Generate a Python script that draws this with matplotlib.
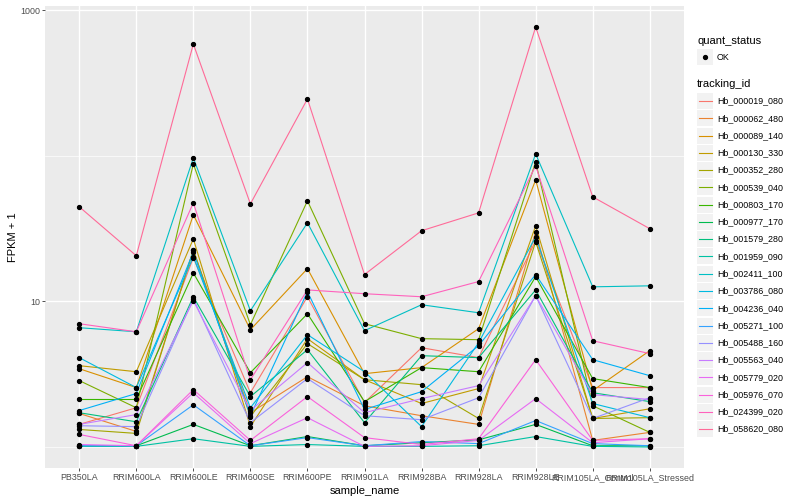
import numpy as np
import matplotlib
matplotlib.use("Agg")
import matplotlib.pyplot as plt
from matplotlib.patches import Rectangle
from matplotlib.lines import Line2D

plt.rcParams['font.family'] = ['Liberation Sans', 'DejaVu Sans']

# data (FPKM + 1)
samples = ['PB350LA', 'RRIM600LA', 'RRIM600LE', 'RRIM600SE', 'RRIM600PE', 'RRIM901LA',
           'RRIM928BA', 'RRIM928LA', 'RRIM928LE', 'RRIM105LA_Control', 'RRIM105LA_Stressed']

tracking_ids = ['Hb_000019_080', 'Hb_000062_480', 'Hb_000089_140', 'Hb_000130_330',
                'Hb_000352_280', 'Hb_000539_040', 'Hb_000803_170', 'Hb_000977_170',
                'Hb_001579_280', 'Hb_001959_090', 'Hb_002411_100', 'Hb_003786_080',
                'Hb_004236_040', 'Hb_005271_100', 'Hb_005488_160', 'Hb_005563_040',
                'Hb_005779_020', 'Hb_005976_070', 'Hb_024399_020', 'Hb_058620_080']

Hb_000019_080 = [1.43, 1.86, 20.0, 2.36, 10.77, 2.02, 4.81, 4.11, 26.1, 2.56, 2.56]
Hb_000062_480 = [1.70, 1.28, 22.6, 1.72, 3.04, 1.92, 1.64, 1.43, 30.1, 1.11, 1.26]
Hb_000089_140 = [3.45, 2.56, 39.4, 6.39, 16.8, 3.19, 3.51, 6.50, 68.4, 2.44, 4.59]
Hb_000130_330 = [3.62, 3.29, 26.9, 1.38, 5.55, 2.90, 1.99, 2.52, 33.1, 1.57, 1.83]
Hb_000352_280 = [1.32, 1.24, 22.6, 1.62, 5.13, 2.90, 2.68, 1.57, 25.7, 1.57, 1.59]
Hb_000539_040 = [2.86, 1.86, 88.1, 6.92, 49.1, 7.03, 5.55, 5.46, 90.9, 1.92, 1.26]
Hb_000803_170 = [2.12, 2.12, 15.7, 3.24, 8.23, 2.05, 3.51, 3.29, 14.8, 2.95, 2.56]
Hb_000977_170 = [1.02, 1.02, 1.43, 1.02, 1.18, 1.02, 1.07, 1.12, 1.43, 1.02, 1.02]
Hb_001579_280 = [1.72, 1.49, 10.77, 2.22, 4.66, 1.47, 4.24, 4.11, 12.0, 2.36, 2.05]
Hb_001959_090 = [1.01, 1.01, 1.14, 1.01, 1.04, 1.01, 1.01, 1.02, 1.18, 1.01, 1.00]
Hb_002411_100 = [6.60, 6.19, 96.9, 8.63, 34.7, 6.30, 9.49, 8.36, 103.2, 12.6, 12.8]
Hb_003786_080 = [4.11, 2.56, 20.3, 1.86, 5.91, 3.29, 1.38, 5.21, 27.8, 1.99, 1.59]
Hb_004236_040 = [1.78, 2.33, 21.9, 1.64, 11.66, 1.81, 2.40, 4.97, 15.3, 3.98, 3.09]
Hb_005271_100 = [1.02, 1.02, 1.95, 1.02, 1.16, 1.02, 1.09, 1.055, 1.52, 1.055, 1.02]
Hb_005488_160 = [1.40, 1.38, 10.43, 1.47, 2.95, 1.64, 1.54, 2.18, 10.94, 1.57, 2.18]
Hb_005563_040 = [1.43, 1.67, 10.11, 1.78, 3.80, 1.72, 2.15, 2.64, 10.94, 2.29, 2.12]
Hb_005779_020 = [1.04, 1.02, 2.36, 1.055, 1.59, 1.01, 1.02, 1.11, 2.15, 1.07, 1.14]
Hb_005976_070 = [1.22, 1.02, 2.48, 1.11, 2.22, 1.16, 1.04, 1.14, 3.98, 1.11, 1.14]
Hb_024399_020 = [7.03, 6.19, 47.6, 2.90, 12.0, 11.3, 10.77, 13.7, 85.4, 5.37, 4.38]
Hb_058620_080 = [44.7, 20.6, 587, 46.8, 246, 15.3, 30.6, 40.6, 768, 52.3, 31.6]

series = [Hb_000019_080, Hb_000062_480, Hb_000089_140, Hb_000130_330, Hb_000352_280,
          Hb_000539_040, Hb_000803_170, Hb_000977_170, Hb_001579_280, Hb_001959_090,
          Hb_002411_100, Hb_003786_080, Hb_004236_040, Hb_005271_100, Hb_005488_160,
          Hb_005563_040, Hb_005779_020, Hb_005976_070, Hb_024399_020, Hb_058620_080]


def hcl_hex(h, c=100, l=65):
    """ggplot-style hue colour (polar Luv -> sRGB)."""
    hr = np.deg2rad(h)
    u, v = c * np.cos(hr), c * np.sin(hr)
    xn, yn, zn = 0.95047, 1.0, 1.08883
    un = 4 * xn / (xn + 15 * yn + 3 * zn)
    vn = 9 * yn / (xn + 15 * yn + 3 * zn)
    Y = yn * ((l + 16) / 116) ** 3
    up = u / (13 * l) + un
    vp = v / (13 * l) + vn
    X = Y * 9 * up / (4 * vp)
    Z = Y * (12 - 3 * up - 20 * vp) / (4 * vp)
    m = np.array([[3.2404542, -1.5371385, -0.4985314],
                  [-0.9692660, 1.8760108, 0.0415560],
                  [0.0556434, -0.2040259, 1.0572252]])
    rgb = m @ np.array([X, Y, Z])
    rgb = np.where(rgb <= 0.0031308, 12.92 * rgb, 1.055 * np.abs(rgb) ** (1 / 2.4) - 0.055)
    rgb = np.clip(rgb, 0, 1)
    return matplotlib.colors.to_hex(rgb)


n = len(tracking_ids)
hues = np.linspace(15, 375, n + 1)[:-1]
colors = [hcl_hex(h) for h in hues]

W, H = 800, 500
fig = plt.figure(figsize=(W / 100, H / 100), dpi=100)
left, right, top, bottom = 45, 684, 6, 468
ax = fig.add_axes([left / W, 1 - bottom / H, (right - left) / W, (bottom - top) / H])
ax.set_facecolor('#EBEBEB')
for s in ax.spines.values():
    s.set_visible(False)

x = np.arange(len(samples))
for vals, col in zip(series, colors):
    ax.plot(x, vals, color=col, lw=0.8, zorder=3)
for vals in series:
    ax.plot(x, vals, 'o', color='black', ms=2.8, zorder=4)

ax.set_yscale('log')
allv = np.log10(np.concatenate([np.array(v) for v in series]))
lo, hi = allv.min(), allv.max()
pad = 0.05 * (hi - lo)
ax.set_ylim(10 ** (lo - pad), 10 ** (hi + pad))
ax.set_xlim(-0.6, len(samples) - 0.4)

ax.set_yticks([10, 1000])
ax.set_yticklabels(['10', '1000'])
ax.set_yticks([1, 100], minor=True)
ax.yaxis.set_minor_formatter(matplotlib.ticker.NullFormatter())
ax.set_xticks(x)
ax.set_xticklabels(samples)

ax.grid(True, which='major', color='white', lw=1.0, zorder=0)
ax.grid(True, which='minor', axis='y', color='white', lw=0.5, zorder=0)
ax.set_axisbelow(True)
ax.tick_params(axis='both', which='major', length=2.2, width=0.6, color='#333333',
               labelsize=6.4, labelcolor='#4D4D4D', pad=1.5)
ax.tick_params(axis='y', which='minor', length=0)

ax.set_xlabel('sample_name', fontsize=8, labelpad=3)
ax.set_ylabel('FPKM + 1', fontsize=8, labelpad=1)

# legend, drawn in pixel coordinates of the figure
def fx(px):
    return px / W


def fy(py):
    return 1 - py / H


key_x, key_w, text_x = 697, 16, 717
fig.text(fx(697), fy(41), 'quant_status', fontsize=8, va='center', ha='left')
fig.patches.append(Rectangle((fx(key_x), fy(57 + key_w / 2)), fx(key_w), key_w / H,
                             transform=fig.transFigure, facecolor='#F2F2F2', edgecolor='none'))
fig.lines.append(Line2D([fx(key_x + key_w / 2)], [fy(57)], marker='o', color='black', ms=2.8,
                        transform=fig.transFigure))
fig.text(fx(text_x), fy(57), 'OK', fontsize=6.4, va='center', ha='left')

fig.text(fx(697), fy(84), 'tracking_id', fontsize=8, va='center', ha='left')
step = 17.27
for i, (name, col) in enumerate(zip(tracking_ids, colors)):
    yc = 101 + i * step
    fig.patches.append(Rectangle((fx(key_x), fy(yc + key_w / 2)), fx(key_w), key_w / H,
                                 transform=fig.transFigure, facecolor='#F2F2F2', edgecolor='none'))
    fig.lines.append(Line2D([fx(key_x + 1.5), fx(key_x + key_w - 1.5)], [fy(yc), fy(yc)],
                            color=col, lw=0.8, transform=fig.transFigure))
    fig.text(fx(text_x), fy(yc), name, fontsize=6.4, va='center', ha='left')

fig.savefig('out.png', dpi=100)
